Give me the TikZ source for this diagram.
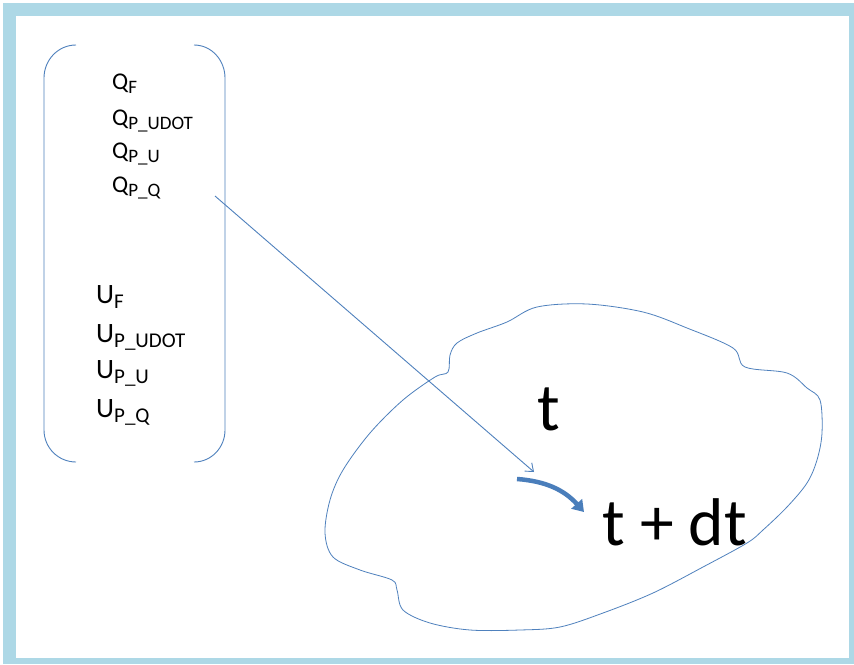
\documentclass[tikz,border=0pt]{standalone}
\usepackage{fontspec}
\setmainfont{Carlito}
\usetikzlibrary{arrows.meta}
\definecolor{frameblue}{RGB}{173,216,230}
\definecolor{lineblue}{RGB}{79,129,189}
\definecolor{boldblue}{RGB}{74,126,187}
\newcommand{\qsym}[2]{Q\raisebox{-0.4ex}{\fontsize{19}{19}\selectfont #2}}
\newcommand{\usym}[2]{U\raisebox{-0.4ex}{\fontsize{21}{21}\selectfont #2}}

\begin{document}
\begin{tikzpicture}[
  x=1pt, y=-1pt,
  qlbl/.style={anchor=base west, inner sep=0pt, font=\fontsize{24}{24}\selectfont},
  ulbl/.style={anchor=base west, inner sep=0pt, font=\fontsize{28}{28}\selectfont},
  timelbl/.style={anchor=base west, inner sep=0pt, font=\fontsize{67.5}{67.5}\selectfont},
  thin line/.style={draw=lineblue, line width=0.9pt},
]
\useasboundingbox (0,0) rectangle (854,664);

% Frame
\fill[frameblue] (3,3) rectangle (854,664);
\fill[white] (16,16) rectangle (849,658);

% Bracket
\draw[thin line] (76,45) to[out=180,in=90] (44,78) -- (44,430) to[out=-90,in=180] (76,462);
\draw[thin line] (194,45) to[out=0,in=90] (225,78) -- (225,430) to[out=-90,in=0] (194,462);

% Variables
\node[qlbl] (qf)    at (112,89)  {\qsym{Q}{F}};
\node[qlbl] (qpud)  at (112,125) {\qsym{Q}{P\_UDOT}};
\node[qlbl] (qpu)   at (112,158) {\qsym{Q}{P\_U}};
\node[qlbl] (qpq)   at (112,192) {\qsym{Q}{P\_Q}};
\node[ulbl] (uf)    at (96,303)  {\usym{U}{F}};
\node[ulbl] (upud)  at (96,342)  {\usym{U}{P\_UDOT}};
\node[ulbl] (upu)   at (96,378)  {\usym{U}{P\_U}};
\node[ulbl] (upq)   at (96,417)  {\usym{U}{P\_Q}};

% Domain
\draw[lineblue, line width=0.8pt] plot[smooth cycle, tension=0.55] coordinates {
  (435,377) (448,372) (450,355) (457,343) (477,333) (507,322) (537,307)
  (587,304) (643,312) (687,328) (733,348) (745,367) (787,373) (807,388)
  (820,400) (822,433) (817,460) (807,483) (787,507) (763,530) (747,543)
  (703,567) (653,593) (603,613) (560,627) (520,630) (470,630) (430,623)
  (403,610) (397,590) (392,580) (360,570) (333,557) (325,533) (330,500)
  (343,470) (370,433) (403,400)};

\node[timelbl] (tnow)  at (537,430) {t};
\node[timelbl] (tnext) at (602,545) {t + dt};

% Connectors
\coordinate (qsrc) at (215,196);
\coordinate (qdst) at (534,472);
\draw[thin line, -{Straight Barb[length=7pt,width=11pt]}] (qsrc) -- (qdst);
\coordinate (stepa) at (517,479);
\coordinate (stepb) at (584,512);
\draw[boldblue, line width=4.5pt, -{Triangle[length=11pt,width=14pt]}] (stepa) to[bend left=22] (stepb);

\end{tikzpicture}
\end{document}
